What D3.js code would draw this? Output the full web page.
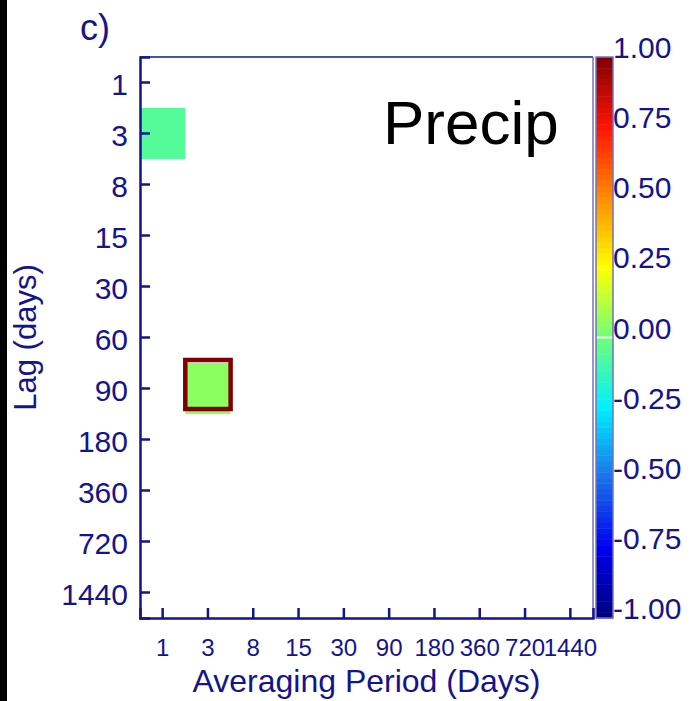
<!DOCTYPE html>
<html>
<head>
<meta charset="utf-8">
<script src="https://cdn.jsdelivr.net/npm/d3@7"></script>
<style>
  body { margin: 0; background: #fff; }
  text { font-family: "Liberation Sans", Arial, sans-serif; }
</style>
</head>
<body>
<script>
var avgPeriods = ["1", "3", "8", "15", "30", "90", "180", "360", "720", "1440"];
var lags = ["1", "3", "8", "15", "30", "60", "90", "180", "360", "720", "1440"];

// correlation cells that are shown (others blank)
var cells = [
  { period: "1", lag: "3", r: -0.06, sig: false },
  { period: "3", lag: "90", r: 0.05, sig: true }
];

var cbTicks = [1, 0.75, 0.5, 0.25, 0, -0.25, -0.5, -0.75, -1];
var cmapStops = [-1, -0.75, -0.5, -0.25, 0, 0.25, 0.5, 0.75, 1];
var cmapColors = ["#00007c", "#0000f0", "#1a72ea", "#00f0ff", "#6eff78",
                  "#ffff00", "#ff8c00", "#ff1400", "#820000"];

var width = 690, height = 701;
var navy = "#14148c";

var svg = d3.select("body").append("svg")
    .attr("width", width)
    .attr("height", height);

// black strip on the left edge
svg.append("rect")
    .attr("x", 0).attr("y", 0)
    .attr("width", 7).attr("height", height)
    .attr("fill", "#000");

var plot = { left: 140, right: 593, top: 57, bottom: 618 };

var x = d3.scaleBand().domain(avgPeriods).range([plot.left, plot.right]);
var y = d3.scaleBand().domain(lags).range([plot.top, plot.bottom]);

var color = d3.scaleLinear().domain(cmapStops).range(cmapColors).clamp(true);

// cells
svg.append("g").selectAll("rect.cell")
    .data(cells)
  .enter().append("rect")
    .attr("class", "cell")
    .attr("x", function(d){ return x(d.period); })
    .attr("y", function(d){ return y(d.lag); })
    .attr("width", x.bandwidth())
    .attr("height", y.bandwidth())
    .attr("fill", function(d){ return color(d.r); });

// significance outline
svg.append("g").selectAll("rect.sig")
    .data(cells.filter(function(d){ return d.sig; }))
  .enter().append("rect")
    .attr("class", "sig")
    .attr("x", function(d){ return x(d.period); })
    .attr("y", function(d){ return y(d.lag) - 3; })
    .attr("width", x.bandwidth())
    .attr("height", y.bandwidth() - 2)
    .attr("fill", "none")
    .attr("stroke", "#800000")
    .attr("stroke-width", 4.5);

// frame: top & right thin
svg.append("line")
    .attr("x1", plot.left).attr("x2", plot.right)
    .attr("y1", plot.top).attr("y2", plot.top)
    .attr("stroke", navy).attr("stroke-width", 1.5);
svg.append("line")
    .attr("x1", plot.right).attr("x2", plot.right)
    .attr("y1", plot.top).attr("y2", plot.bottom)
    .attr("stroke", "#7272c0").attr("stroke-width", 1.5);

// y axis
var yAxis = svg.append("g")
    .attr("transform", "translate(" + plot.left + ",0)")
    .call(d3.axisLeft(y).tickSize(-10).tickPadding(12));
yAxis.select(".domain").attr("stroke", navy).attr("stroke-width", 2.5);
yAxis.selectAll(".tick line").attr("stroke", navy).attr("stroke-width", 2.5);
yAxis.selectAll(".tick text")
    .attr("fill", navy)
    .style("font-size", "30px")
    .attr("dy", "0.4em");

// x axis
var xAxis = svg.append("g")
    .attr("transform", "translate(0," + plot.bottom + ")")
    .call(d3.axisBottom(x).tickSize(-10).tickPadding(21));
xAxis.select(".domain").attr("stroke", navy).attr("stroke-width", 2.5);
xAxis.selectAll(".tick line").attr("stroke", navy).attr("stroke-width", 2.5);
xAxis.selectAll(".tick text")
    .attr("fill", navy)
    .style("font-size", "24px");

// axis titles
svg.append("text")
    .attr("x", (plot.left + plot.right) / 2)
    .attr("y", 692)
    .attr("text-anchor", "middle")
    .attr("fill", navy)
    .style("font-size", "32px")
    .text("Averaging Period (Days)");

svg.append("text")
    .attr("transform", "translate(36," + ((plot.top + plot.bottom) / 2) + ") rotate(-90)")
    .attr("text-anchor", "middle")
    .attr("fill", navy)
    .style("font-size", "31px")
    .text("Lag (days)");

svg.append("text")
    .attr("x", 80).attr("y", 40)
    .attr("fill", navy)
    .style("font-size", "36px")
    .text("c)");

svg.append("text")
    .attr("x", 383).attr("y", 144)
    .attr("fill", "#000")
    .style("font-size", "62px")
    .text("Precip");

// colorbar
var cb = { x: 596, w: 17 };
var cy = d3.scaleLinear().domain([-1, 1]).range([plot.bottom, plot.top]);
var levels = d3.range(-1, 1, 2 / 100);
svg.append("g").selectAll("rect")
    .data(levels)
  .enter().append("rect")
    .attr("x", cb.x)
    .attr("y", function(d){ return cy(d + 2 / 100); })
    .attr("width", cb.w)
    .attr("height", cy(0) - cy(2 / 100) + 0.5)
    .attr("fill", function(d){ return color(d + 1 / 100); });
svg.append("line")
    .attr("x1", cb.x).attr("x2", cb.x + cb.w)
    .attr("y1", cy(0)).attr("y2", cy(0))
    .attr("stroke", "#fff").attr("stroke-width", 2);
svg.append("rect")
    .attr("x", cb.x).attr("y", plot.top)
    .attr("width", cb.w).attr("height", plot.bottom - plot.top)
    .attr("fill", "none")
    .attr("stroke", "#7272c0").attr("stroke-width", 1.5);

svg.append("g").selectAll("text")
    .data(cbTicks)
  .enter().append("text")
    .attr("x", cb.x + cb.w)
    .attr("y", function(d){ return cy(d) + 1; })
    .attr("fill", navy)
    .style("font-size", "30px")
    .text(function(d){ return d3.format(".2f")(d).replace("−", "-"); });
</script>
</body>
</html>
